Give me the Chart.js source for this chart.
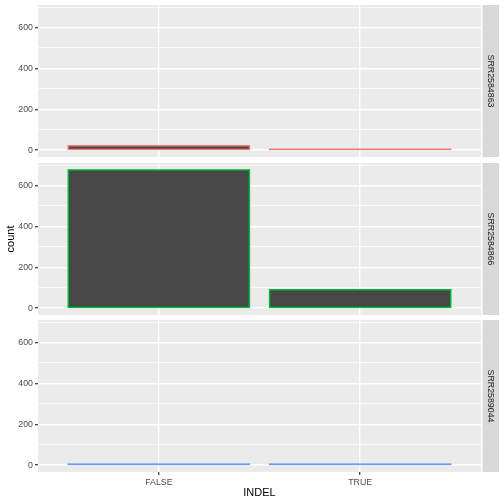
<!DOCTYPE html>
<html>
<head>
<meta charset="utf-8">
<script src="https://cdn.jsdelivr.net/npm/chart.js@4.4.1/dist/chart.umd.min.js"></script>
<style>
  html, body { margin: 0; padding: 0; background: #ffffff; }
  #wrap { position: relative; width: 504px; height: 504px; overflow: hidden; }
  .panel { position: absolute; left: 0; width: 504px; }
</style>
</head>
<body>
<div id="wrap"></div>
<script>
const categories = ['FALSE', 'TRUE'];
const samples = ['SRR2584863', 'SRR2584866', 'SRR2589044'];
const countsSRR2584863 = [21, 4];
const countsSRR2584866 = [676, 90];
const countsSRR2589044 = [5, 5];
const yTicks = [0, 200, 400, 600];
const yMinorTicks = [100, 300, 500, 700];
const sampleColors = ['#F8766D', '#00BA38', '#619CFF'];

const seriesBySample = [countsSRR2584863, countsSRR2584866, countsSRR2589044];

// facet layout (pixels)
const panelTops = [5, 163, 320];
const panelHeight = 152;
const panelLeft = 38;
const panelRight = 481;
const FONT = '"Liberation Sans", Arial, Helvetica, sans-serif';

// ggplot expands the shared y range by 5% on each side
const maxCount = Math.max(...seriesBySample.flat());
const yMin = -0.05 * maxCount;
const yMax = 1.05 * maxCount;

// grey panel background, bar outlines (stroked on the edge like ggplot) and facet strip
const facetPlugin = {
    id: 'facet',
    beforeDraw(chart) {
        const { ctx, chartArea: a } = chart;
        ctx.save();
        ctx.fillStyle = '#EBEBEB';
        ctx.fillRect(a.left, a.top, a.right - a.left, a.bottom - a.top);
        ctx.restore();
    },
    afterDatasetsDraw(chart, args, opts) {
        const { ctx } = chart;
        ctx.save();
        ctx.strokeStyle = opts.outline;
        ctx.lineWidth = 1.4;
        chart.getDatasetMeta(0).data.forEach(bar => {
            const { x, y, base, width } = bar.getProps(['x', 'y', 'base', 'width'], true);
            ctx.strokeRect(x - width / 2, Math.min(y, base), width, Math.abs(base - y));
        });
        ctx.restore();
    },
    afterDraw(chart, args, opts) {
        const { ctx, chartArea: a } = chart;
        const x = a.right + 1.5, w = 16.5;
        ctx.save();
        ctx.fillStyle = '#D9D9D9';
        ctx.fillRect(x, a.top, w, a.bottom - a.top);
        ctx.translate(x + w / 2, (a.top + a.bottom) / 2);
        ctx.rotate(Math.PI / 2);
        ctx.fillStyle = '#1A1A1A';
        ctx.font = '8.8px ' + FONT;
        ctx.textAlign = 'center';
        ctx.textBaseline = 'middle';
        ctx.fillText(opts.label, 0, 0);
        ctx.restore();
    }
};

function makePanel(i) {
    const isBottom = i === samples.length - 1;
    const boxHeight = isBottom ? 504 - panelTops[i] : panelHeight;

    const box = document.createElement('div');
    box.className = 'panel';
    box.style.top = panelTops[i] + 'px';
    box.style.height = boxHeight + 'px';
    const canvas = document.createElement('canvas');
    box.appendChild(canvas);
    document.getElementById('wrap').appendChild(box);

    const isMajor = v => yTicks.includes(v);

    new Chart(canvas, {
        type: 'bar',
        data: {
            datasets: [{
                data: seriesBySample[i].map((v, k) => ({ x: k + 1, y: v })),
                backgroundColor: '#474747',
                borderWidth: 0,
                barPercentage: 0.9,
                categoryPercentage: 1
            }]
        },
        options: {
            responsive: true,
            maintainAspectRatio: false,
            animation: false,
            layout: { padding: { left: 0, top: 0, right: 504 - panelRight, bottom: 0 } },
            plugins: {
                legend: { display: false },
                tooltip: { enabled: false },
                facet: { label: samples[i], outline: sampleColors[i] }
            },
            scales: {
                x: {
                    type: 'linear',
                    min: 0.4,
                    max: 2.6,
                    offset: false,
                    afterBuildTicks: s => { s.ticks = categories.map((c, k) => ({ value: k + 1 })); },
                    afterFit: s => {
                        s.height = isBottom ? boxHeight - panelHeight : 0;
                        s.paddingLeft = 0;
                        s.paddingRight = 0;
                    },
                    grid: {
                        offset: false,
                        color: '#FFFFFF',
                        lineWidth: 1.4,
                        drawTicks: isBottom,
                        tickLength: 3,
                        tickColor: '#333333',
                        tickWidth: 1.2
                    },
                    border: { display: false },
                    ticks: {
                        display: isBottom,
                        autoSkip: false,
                        maxRotation: 0,
                        padding: 2,
                        color: '#4D4D4D',
                        font: { family: FONT, size: 8.8 },
                        callback: v => categories[Math.round(v) - 1]
                    },
                    title: {
                        display: isBottom,
                        text: 'INDEL',
                        color: '#000000',
                        font: { family: FONT, size: 11 },
                        padding: { top: 0, bottom: 4.4 }
                    }
                },
                y: {
                    min: yMin,
                    max: yMax,
                    beginAtZero: false,
                    afterBuildTicks: s => {
                        s.ticks = [...yTicks, ...yMinorTicks].sort((a, b) => a - b).map(v => ({ value: v }));
                    },
                    afterFit: s => {
                        s.width = panelLeft;
                        s.paddingTop = 0;
                        s.paddingBottom = 0;
                    },
                    grid: {
                        color: '#FFFFFF',
                        lineWidth: c => (c.tick && isMajor(c.tick.value)) ? 1.4 : 0.7,
                        tickLength: 3,
                        tickColor: c => (c.tick && isMajor(c.tick.value)) ? '#333333' : 'rgba(0,0,0,0)',
                        tickWidth: 1.2
                    },
                    border: { display: false },
                    ticks: {
                        autoSkip: false,
                        padding: 2,
                        color: '#4D4D4D',
                        font: { family: FONT, size: 8.8 },
                        callback: v => isMajor(v) ? String(v) : ''
                    },
                    title: {
                        display: i === 1,
                        text: 'count',
                        color: '#000000',
                        font: { family: FONT, size: 11 },
                        padding: { top: 4, bottom: 0 }
                    }
                }
            }
        },
        plugins: [facetPlugin]
    });
}

samples.forEach((s, i) => makePanel(i));
</script>
</body>
</html>
